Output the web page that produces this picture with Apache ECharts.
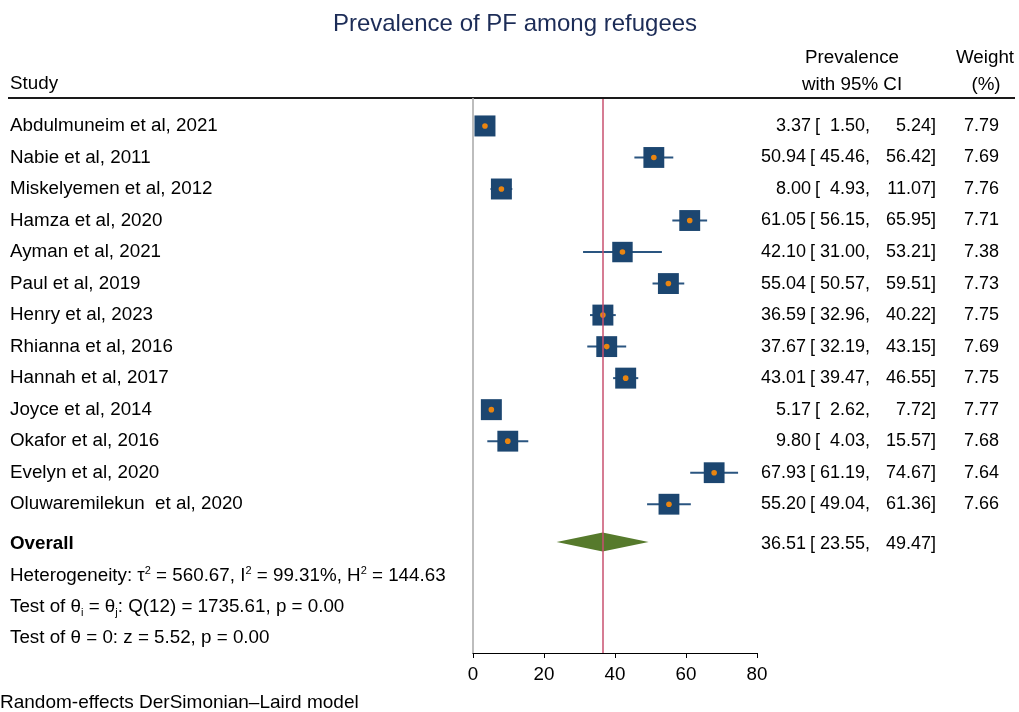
<!DOCTYPE html>
<html>
<head>
<meta charset="utf-8">
<script src="https://cdn.jsdelivr.net/npm/echarts@6/dist/echarts.min.js"></script>
<style>html,body{margin:0;padding:0;background:#fff;}#c{width:1019px;height:712px;}</style>
</head>
<body>
<div id="c"></div>
<script>
const studies = ["Abdulmuneim et al, 2021","Nabie et al, 2011","Miskelyemen et al, 2012","Hamza et al, 2020","Ayman et al, 2021","Paul et al, 2019","Henry et al, 2023","Rhianna et al, 2016","Hannah et al, 2017","Joyce et al, 2014","Okafor et al, 2016","Evelyn et al, 2020","Oluwaremilekun  et al, 2020"];
const est = [3.37,50.94,8.00,61.05,42.10,55.04,36.59,37.67,43.01,5.17,9.80,67.93,55.20];
const lo  = [1.50,45.46,4.93,56.15,31.00,50.57,32.96,32.19,39.47,2.62,4.03,61.19,49.04];
const hi  = [5.24,56.42,11.07,65.95,53.21,59.51,40.22,43.15,46.55,7.72,15.57,74.67,61.36];
const weights = [7.79,7.69,7.76,7.71,7.38,7.73,7.75,7.69,7.75,7.77,7.68,7.64,7.66];
const overallEst = 36.51, overallLo = 23.55, overallHi = 49.47;
const xMin = 0, xMax = 80, xStep = 20;
const hetLines = [
  "Heterogeneity: τ{sup|2} = 560.67, I{sup|2} = 99.31%, H{sup|2} = 144.63",
  "Test of θ{sub|i} = θ{sub|j}: Q(12) = 1735.61, p = 0.00",
  "Test of θ = 0: z = 5.52, p = 0.00"
];
const titleText = "Prevalence of PF among refugees";
const footText = "Random-effects DerSimonian–Laird model";

const FONT = "'Liberation Sans', Arial, sans-serif";
const FS = 18.8;
const FN = 18;
const overallRow = 13.27;
const hetRows = [14.28, 15.26, 16.24];
const f2 = v => v.toFixed(2);

const chart = echarts.init(document.getElementById('c'), null, {renderer:'canvas'});

function txt(x, y, text, align, extra) {
  return {type:'text', x:x, y:y, style:Object.assign({text:text, fill:'#000', fontSize:FS, fontFamily:FONT, align:align||'left', verticalAlign:'middle'}, extra||{})};
}
function ciGroup(y, e, l, h, w) {
  const sh = e < 10 ? 5 : 0;
  const n = {fontSize:FN};
  const out = [
    txt(806+sh, y, f2(e), 'right', n),
    txt(810+sh, y, '[', 'left', n),
    txt(870, y, f2(l)+',', 'right', n),
    txt(936, y, f2(h)+']', 'right', n)
  ];
  if (w != null) out.push(txt(999, y, f2(w), 'right', n));
  return out;
}

const markerData = studies.map((s,i)=>[i, est[i], lo[i], hi[i], weights[i]]);
const tableData = studies.map((s,i)=>[i, est[i], lo[i], hi[i], weights[i]]);

const option = {
  animation:false,
  backgroundColor:'#fff',
  title:{text:titleText, left:510, textAlign:'center', top:7, textStyle:{fontSize:24, fontWeight:'normal', color:'#1c2c57', fontFamily:FONT}},
  grid:{left:473, right:262, top:99, bottom:59, containLabel:false},
  xAxis:{type:'value', min:xMin, max:xMax, interval:xStep,
    axisLine:{show:true, onZero:false, lineStyle:{color:'#000', width:1}},
    axisTick:{show:true, length:5, lineStyle:{color:'#000', width:1}},
    axisLabel:{fontSize:FS, color:'#000', fontFamily:FONT, margin:12},
    splitLine:{show:false}},
  yAxis:{type:'value', inverse:true, min:-0.855, max:16.72,
    axisLine:{show:true, onZero:false, lineStyle:{color:'#bdbdbd', width:2}},
    axisTick:{show:false}, axisLabel:{show:false}, splitLine:{show:false}},
  graphic:[
    {type:'line', shape:{x1:8, y1:98, x2:1015, y2:98}, style:{stroke:'#1a1a1a', lineWidth:2}},
    txt(10, 84, 'Study'),
    txt(852, 58, 'Prevalence', 'center'),
    txt(852, 85, 'with 95% CI', 'center'),
    txt(985, 58, 'Weight', 'center'),
    txt(986, 85, '(%)', 'center'),
    txt(0, 703, footText, 'left', {fontSize:19})
  ],
  series:[
    {type:'custom', name:'refline', z:1, clip:false, data:[[overallRow, overallEst]],
      renderItem:function(){return {type:'group', children:[]};},
      encode:{x:1, y:0},
      markLine:{silent:true, symbol:'none', label:{show:false}, animation:false,
        lineStyle:{color:'#c9506f', width:1.5, type:'solid'},
        data:[{xAxis:overallEst}]}},
    {type:'custom', name:'studies', z:3, clip:false, data:markerData, encode:{x:[1,2,3], y:0},
      renderItem:function(params, api){
        const row = api.value(0);
        const c = api.coord([api.value(1), row]);
        const l = api.coord([api.value(2), row]);
        const h = api.coord([api.value(3), row]);
        const side = 21*Math.sqrt(api.value(4)/7.79);
        return {type:'group', children:[
          {type:'line', shape:{x1:l[0], y1:c[1], x2:h[0], y2:c[1]}, style:{stroke:'#2a5580', lineWidth:2}},
          {type:'rect', shape:{x:c[0]-side/2, y:c[1]-side/2, width:side, height:side}, style:{fill:'#1c4670'}},
          {type:'circle', shape:{cx:c[0], cy:c[1], r:2.8}, style:{fill:'#ea8510'}}
        ]};
      }},
    {type:'custom', name:'overall', z:4, clip:false, data:[[overallRow-0.07, overallEst, overallLo, overallHi]], encode:{x:[1,2,3], y:0},
      renderItem:function(params, api){
        const row = api.value(0);
        const c = api.coord([api.value(1), row]);
        const l = api.coord([api.value(2), row]);
        const h = api.coord([api.value(3), row]);
        return {type:'polygon', shape:{points:[[l[0],c[1]],[c[0],c[1]-9.5],[h[0],c[1]],[c[0],c[1]+9.5]]}, style:{fill:'#567a2c'}};
      }},
    {type:'custom', name:'table', z:5, clip:false, data:tableData, encode:{x:1, y:0},
      renderItem:function(params, api){
        const i = params.dataIndex;
        const y = api.coord([0, api.value(0)])[1];
        return {type:'group', children:[txt(10, y, studies[i])].concat(ciGroup(y, est[i], lo[i], hi[i], weights[i]))};
      }},
    {type:'custom', name:'summary', z:5, clip:false, data:[[overallRow, overallEst]], encode:{x:1, y:0},
      renderItem:function(params, api){
        const y = api.coord([0, overallRow])[1];
        const rich = {
          sup:{fontSize:11, fontFamily:FONT, fill:'#000', verticalAlign:'top', lineHeight:22, padding:[0,0,6,0]},
          sub:{fontSize:11, fontFamily:FONT, fill:'#000', verticalAlign:'bottom', lineHeight:22, padding:[6,0,0,0]}
        };
        let kids = [txt(10, y, 'Overall', 'left', {fontWeight:'bold'})].concat(ciGroup(y, overallEst, overallLo, overallHi, null));
        hetLines.forEach((t,k)=>{
          const yy = api.coord([0, hetRows[k]])[1];
          kids.push(txt(10, yy, t, 'left', {rich:rich, lineHeight:22}));
        });
        return {type:'group', children:kids};
      }}
  ]
};
chart.setOption(option);
</script>
</body>
</html>
